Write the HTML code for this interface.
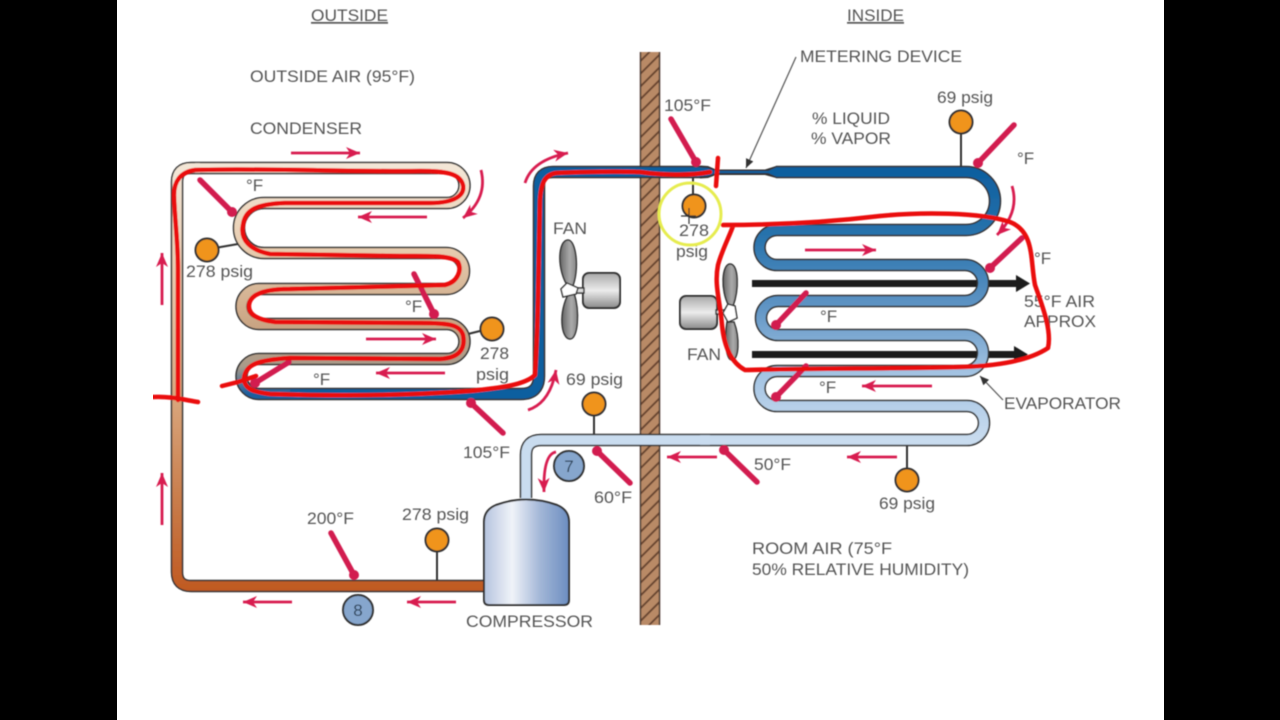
<!DOCTYPE html>
<html><head><meta charset="utf-8"><style>
html,body{margin:0;padding:0;background:#fff;width:1280px;height:720px;overflow:hidden}
svg{display:block}
text{font-family:"Liberation Sans",sans-serif;font-size:17px;fill:#555}
</style></head><body>
<svg width="1280" height="720" viewBox="0 0 1280 720" xmlns="http://www.w3.org/2000/svg">
<defs>
<filter id="soft" x="0" y="0" width="100%" height="100%"><feGaussianBlur stdDeviation="0.45"/></filter>
<linearGradient id="cond" gradientUnits="userSpaceOnUse" x1="0" y1="168" x2="0" y2="394">
<stop offset="0" stop-color="#f3e6d6"/><stop offset=".35" stop-color="#e8cdb0"/><stop offset=".7" stop-color="#c9a483"/><stop offset=".88" stop-color="#a89a8a"/><stop offset="1" stop-color="#1c5f9e"/></linearGradient>
<linearGradient id="hot" gradientUnits="userSpaceOnUse" x1="0" y1="170" x2="0" y2="590">
<stop offset="0" stop-color="#f3e6d6"/><stop offset=".5" stop-color="#dcae86"/><stop offset=".8" stop-color="#c87a48"/><stop offset="1" stop-color="#c05a22"/></linearGradient>
<linearGradient id="evap" gradientUnits="userSpaceOnUse" x1="0" y1="172" x2="0" y2="440">
<stop offset="0" stop-color="#0f5f9f"/><stop offset=".25" stop-color="#2a74ad"/><stop offset=".5" stop-color="#5f94c4"/><stop offset=".75" stop-color="#a3c3e2"/><stop offset="1" stop-color="#c9dcef"/></linearGradient>
<linearGradient id="comp" x1="0" y1="0" x2="1" y2="0">
<stop offset="0" stop-color="#b5c3de"/><stop offset=".33" stop-color="#f0f3f9"/><stop offset=".65" stop-color="#a5b8d8"/><stop offset="1" stop-color="#6b8dc0"/></linearGradient>
<linearGradient id="mot" x1="0" y1="0" x2="0" y2="1">
<stop offset="0" stop-color="#a8a8a8"/><stop offset=".5" stop-color="#ececec"/><stop offset="1" stop-color="#8a8a8a"/></linearGradient>
<linearGradient id="blade" x1="0" y1="0" x2="1" y2="0">
<stop offset="0" stop-color="#666"/><stop offset=".6" stop-color="#aaa"/><stop offset="1" stop-color="#888"/></linearGradient>
<pattern id="hatch" width="9" height="9" patternUnits="userSpaceOnUse" patternTransform="rotate(-45)">
<rect width="9" height="9" fill="#b98a66"/><rect width="9" height="2" fill="#6b4630"/></pattern>
<marker id="ah" markerUnits="userSpaceOnUse" markerWidth="18" markerHeight="14" refX="14" refY="6" orient="auto"><path d="M0 0L14 6L0 12L4 6Z" fill="#d81e50"/></marker>
<marker id="gh" markerUnits="userSpaceOnUse" markerWidth="12" markerHeight="10" refX="9" refY="4" orient="auto"><path d="M0 0L9 4L0 8Z" fill="#333"/></marker>
</defs>
<rect width="1280" height="720" fill="#fff"/>
<rect x="0" y="0" width="117" height="720" fill="#000"/>
<rect x="1164" y="0" width="116" height="720" fill="#000"/>

<g filter="url(#soft)">
<!-- wall -->
<rect x="640" y="52" width="20" height="573" fill="url(#hatch)"/>
<path d="M640.500 52V625M659.500 52V625" stroke="#4a3a30" stroke-width="1.500"/>

<!-- air bars -->
<g fill="#1a1a1a">
<rect x="752" y="280" width="266" height="7"/><path d="M1016 275L1030 283.500L1016 292Z"/>
<rect x="752" y="351" width="266" height="7"/><path d="M1014 346L1028 354.500L1014 363Z"/>
</g>

<!-- stems -->
<g stroke="#333" stroke-width="2" fill="none">
<path d="M215 248L238 244M480 331L468 334M693 194V175M961 134V168M594 416V436M907 468V445M437 552V582"/>
</g>

<!-- hot gas + condenser -->
<g fill="none" stroke-linejoin="round">
<path d="M484 586H191Q177 586 177 572V182Q177 168 191 168H447A17.500 17.500 0 0 1 447 203H264A25 25 0 0 0 264 253H446A18 18 0 0 1 446 289H259A17.500 17.500 0 0 0 259 324H447A17.500 17.500 0 0 1 447 359H259A17.500 17.500 0 0 0 259 394H521Q539 394 539 376V186Q539 172 553 172H700" stroke="#333" stroke-width="12.500"/>
<path d="M484 586H191Q177 586 177 572V182Q177 168 191 168H200" stroke="url(#hot)" stroke-width="9.500"/>
<path d="M195 168H447A17.500 17.500 0 0 1 447 203H264A25 25 0 0 0 264 253H446A18 18 0 0 1 446 289H259A17.500 17.500 0 0 0 259 324H447A17.500 17.500 0 0 1 447 359H259A17.500 17.500 0 0 0 259 394H300" stroke="url(#cond)" stroke-width="9.500"/>
<path d="M290 394H521Q539 394 539 376V186Q539 172 553 172H704" stroke="#0f5f9f" stroke-width="9.500"/>
</g>
<!-- liquid taper + capillary -->
<path d="M700 165.500L708 166L716 169.500H765L776 166H790V178H776L765 175H716L708 178L700 178.500Z" fill="#333"/>
<path d="M700 167.500L708 168L716 171H768L776 167.500H790V176.500H776L768 173H716L708 176L700 176.500Z" fill="#0f5f9f"/>

<!-- evaporator + suction -->
<g fill="none">
<path d="M776 172H966A29 29 0 0 1 966 230H777A17.500 17.500 0 0 0 777 265H965A18 18 0 0 1 965 301H778A17 17 0 0 0 778 335H965A18 18 0 0 1 965 371H777A17.500 17.500 0 0 0 777 406H967A17 17 0 0 1 967 440H541Q526 440 526 455V498" stroke="#333" stroke-width="12.500"/>
<path d="M776 172H966A29 29 0 0 1 966 230H777A17.500 17.500 0 0 0 777 265H965A18 18 0 0 1 965 301H778A17 17 0 0 0 778 335H965A18 18 0 0 1 965 371H777A17.500 17.500 0 0 0 777 406H967A17 17 0 0 1 967 440H700" stroke="url(#evap)" stroke-width="9.500"/>
<path d="M710 440H541Q526 440 526 455V500" stroke="#c9dcef" stroke-width="9.500"/>
</g>

<!-- compressor -->
<path d="M484 600V522Q484 510 496 505Q526 494 557 505Q569 510 569 522V600Q569 605 564 605H489Q484 605 484 600Z" fill="url(#comp)" stroke="#333" stroke-width="2"/>

<!-- left fan -->
<g stroke="#333" stroke-width="1.500">
<rect x="583" y="273" width="37" height="35" rx="6" fill="url(#mot)" stroke-width="2"/>
<rect x="574" y="288" width="10" height="5" fill="#ddd"/>
<path d="M569 288C556 270 558 240 568 240C576 240 580 270 572 288Z" fill="url(#blade)"/>
<path d="M569 293C558 312 561 339 570 339C578 339 580 312 574 293Z" fill="url(#blade)"/>
<path d="M567 283L561 289L563 297L576 294L578 288Z" fill="#fff"/>
</g>
<!-- right fan -->
<g stroke="#333" stroke-width="1.500">
<rect x="680" y="296" width="37" height="33" rx="6" fill="url(#mot)" stroke-width="2"/>
<rect x="716" y="310" width="8" height="4" fill="#ddd"/>
<path d="M729 306C720 290 722 264 730 264C739 264 739 290 733 306Z" fill="url(#blade)"/>
<path d="M727 322C724 340 726 360 732 360C739 360 740 338 734 322Z" fill="url(#blade)"/>
<path d="M728 304L723 313L728 322L737 318L735 306Z" fill="#fff"/>
</g>

<!-- thermometers -->
<g stroke="#d21c50" stroke-width="5.500" stroke-linecap="round" fill="#d21c50">
<path d="M200 180L232 212"/><circle cx="232" cy="212" r="5" stroke="none"/>
<path d="M414 274L434 314"/><circle cx="434" cy="314" r="5" stroke="none"/>
<path d="M289 362L255 383"/><circle cx="255" cy="383" r="5" stroke="none"/>
<path d="M503 433L471 403"/><circle cx="471" cy="403" r="5" stroke="none"/>
<path d="M671 119L696 162"/><circle cx="696" cy="162" r="5" stroke="none"/>
<path d="M1014 125L978 163"/><circle cx="978" cy="163" r="5" stroke="none"/>
<path d="M1022 238L990 268"/><circle cx="990" cy="268" r="5" stroke="none"/>
<path d="M806 293L776 325"/><circle cx="776" cy="325" r="5" stroke="none"/>
<path d="M806 366L776 397"/><circle cx="776" cy="397" r="5" stroke="none"/>
<path d="M757 482L724 450"/><circle cx="724" cy="450" r="5" stroke="none"/>
<path d="M630 483L597 451"/><circle cx="597" cy="451" r="5" stroke="none"/>
<path d="M331 533L354 575"/><circle cx="354" cy="575" r="5" stroke="none"/>
</g>

<!-- gauges -->
<g fill="#f0941c" stroke="#333" stroke-width="2">
<circle cx="207" cy="250" r="11.500"/><circle cx="492" cy="329" r="11.500"/>
<circle cx="694" cy="206" r="11.500"/><circle cx="961" cy="122" r="11.500"/>
<circle cx="594" cy="404" r="11.500"/><circle cx="907" cy="480" r="11.500"/>
<circle cx="437" cy="540" r="11.500"/>
</g>
<g fill="#86a6cd" stroke="#333" stroke-width="2">
<circle cx="569" cy="466" r="15"/><circle cx="358" cy="610" r="15"/>
</g>

<!-- flow arrows -->
<g stroke="#d81e50" stroke-width="2.800" fill="none">
<path d="M291 153H360" marker-end="url(#ah)"/>
<path d="M427 217H358" marker-end="url(#ah)"/>
<path d="M366 339H436" marker-end="url(#ah)"/>
<path d="M445 373H376" marker-end="url(#ah)"/>
<path d="M162 305V253" marker-end="url(#ah)"/>
<path d="M162 525V473" marker-end="url(#ah)"/>
<path d="M292 602H243" marker-end="url(#ah)"/>
<path d="M456 602H407" marker-end="url(#ah)"/>
<path d="M805 250H876" marker-end="url(#ah)"/>
<path d="M932 386H862" marker-end="url(#ah)"/>
<path d="M897 457H847" marker-end="url(#ah)"/>
<path d="M717 457H667" marker-end="url(#ah)"/>
<path d="M481 170Q488 198 463 218" marker-end="url(#ah)"/>
<path d="M525 183Q532 160 568 153" marker-end="url(#ah)"/>
<path d="M528 410Q550 403 556 370" marker-end="url(#ah)"/>
<path d="M1012 186Q1020 212 997 235" marker-end="url(#ah)"/>
<path d="M556 452Q543 454 544 492" marker-end="url(#ah)"/>
</g>

<!-- leaders -->
<g stroke="#555" stroke-width="1.200" fill="none">
<path d="M796 57L746 168" marker-end="url(#gh)"/>
<path d="M1003 400L980 376" marker-end="url(#gh)"/>
</g>

<!-- labels -->
<text x="311" y="21" text-decoration="underline" textLength="77" lengthAdjust="spacingAndGlyphs">OUTSIDE</text>
<text x="847" y="21" text-decoration="underline" textLength="57" lengthAdjust="spacingAndGlyphs">INSIDE</text>
<text x="250" y="82" textLength="165" lengthAdjust="spacingAndGlyphs">OUTSIDE AIR (95°F)</text>
<text x="250" y="134" textLength="112" lengthAdjust="spacingAndGlyphs">CONDENSER</text>
<text x="800" y="62" textLength="162" lengthAdjust="spacingAndGlyphs">METERING DEVICE</text>
<text x="812" y="124" textLength="78" lengthAdjust="spacingAndGlyphs">% LIQUID</text>
<text x="811" y="144" textLength="80" lengthAdjust="spacingAndGlyphs">% VAPOR</text>
<text x="664" y="111" textLength="47" lengthAdjust="spacingAndGlyphs">105°F</text>
<text x="937" y="103" textLength="56" lengthAdjust="spacingAndGlyphs">69 psig</text>
<text x="1017" y="164">°F</text>
<text x="1034" y="264">°F</text>
<text x="246" y="191">°F</text>
<text x="186" y="277" textLength="67" lengthAdjust="spacingAndGlyphs">278 psig</text>
<text x="405" y="312">°F</text>
<text x="480" y="359" textLength="29" lengthAdjust="spacingAndGlyphs">278</text>
<text x="476" y="380" textLength="33" lengthAdjust="spacingAndGlyphs">psig</text>
<text x="313" y="385">°F</text>
<text x="553" y="234" textLength="34" lengthAdjust="spacingAndGlyphs">FAN</text>
<text x="679" y="236" textLength="30" lengthAdjust="spacingAndGlyphs">278</text>
<text x="676" y="257" textLength="32" lengthAdjust="spacingAndGlyphs">psig</text>
<text x="1024" y="307" textLength="71" lengthAdjust="spacingAndGlyphs">55°F AIR</text>
<text x="1024" y="327" textLength="72" lengthAdjust="spacingAndGlyphs">APPROX</text>
<text x="820" y="322">°F</text>
<text x="687" y="360" textLength="34" lengthAdjust="spacingAndGlyphs">FAN</text>
<text x="819" y="393">°F</text>
<text x="1004" y="409" textLength="117" lengthAdjust="spacingAndGlyphs">EVAPORATOR</text>
<text x="566" y="385" textLength="57" lengthAdjust="spacingAndGlyphs">69 psig</text>
<text x="463" y="458" textLength="47" lengthAdjust="spacingAndGlyphs">105°F</text>
<text x="754" y="470" textLength="37" lengthAdjust="spacingAndGlyphs">50°F</text>
<text x="594" y="503" textLength="38" lengthAdjust="spacingAndGlyphs">60°F</text>
<text x="879" y="509" textLength="56" lengthAdjust="spacingAndGlyphs">69 psig</text>
<text x="307" y="524" textLength="47" lengthAdjust="spacingAndGlyphs">200°F</text>
<text x="402" y="520" textLength="67" lengthAdjust="spacingAndGlyphs">278 psig</text>
<text x="466" y="627" textLength="127" lengthAdjust="spacingAndGlyphs">COMPRESSOR</text>
<text x="752" y="554" textLength="140" lengthAdjust="spacingAndGlyphs">ROOM  AIR (75°F</text>
<text x="752" y="575" textLength="217" lengthAdjust="spacingAndGlyphs">50% RELATIVE HUMIDITY)</text>
<text x="569" y="472" text-anchor="middle" style="fill:#2c4258">7</text>
<text x="358" y="616" text-anchor="middle" style="fill:#2c4258">8</text>

<!-- hand-drawn red -->
<g fill="none" stroke="#ea0a0c" stroke-width="4.500" stroke-linecap="round" stroke-linejoin="round">
<path d="M710 172C690 176 660 175 640 172C610 171 580 172 556 173C544 175 541 184 540 200L538 300C537 340 536 360 535 375C525 385 500 388 470 391C400 396 330 396 270 394C252 392 244 388 244 378C246 364 258 360 290 358L440 359C458 358 466 350 463 335C460 325 450 323 420 323L275 322C258 320 248 315 249 305C250 295 262 289 290 289L445 285C458 282 462 270 458 262C450 255 430 256 400 256L270 254C250 250 240 240 243 225C245 210 256 204 285 203L430 203C455 203 465 195 463 185C460 173 445 171 420 171C360 172 260 168 195 170C180 172 174 182 174 195C175 225 178 240 178 270L178 400"/>
<path d="M222 386L238 382L256 376"/>
<path d="M153 397C170 396 185 400 198 402"/>
<path d="M718 158L716 186"/>
<path d="M723 225C780 225 830 222 880 216C920 212 980 212 1010 222C1035 232 1030 260 1035 285C1042 305 1052 330 1048 348C1030 360 1000 366 960 367C900 369 820 368 745 370C730 362 724 345 722 325C720 300 714 285 718 265C722 250 730 235 733 226"/>
</g>
<circle cx="690" cy="214" r="31" fill="none" stroke="#e6ec50" stroke-width="3"/>
<path d="M681 216H696M689 208V224" stroke="#333" stroke-width="1.200"/>
</g>
</svg>
</body></html>
